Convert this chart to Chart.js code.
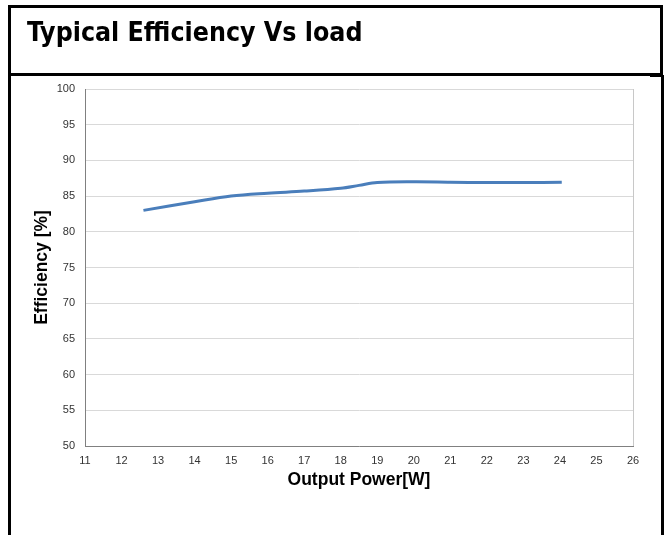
<!DOCTYPE html>
<html>
<head>
<meta charset="utf-8">
<script src="https://cdn.jsdelivr.net/npm/chart.js@4/dist/chart.umd.min.js"></script>
<style>
  html, body { margin: 0; padding: 0; background: #fff; }
  body { width: 670px; height: 535px; position: relative; overflow: hidden; }
  .bar { position: absolute; background: #000; }
  #title {
    position: absolute; left: 27px; top: 19px; line-height: 1;
    font-family: "DejaVu Sans Condensed", "Liberation Sans", sans-serif;
    font-weight: bold; font-size: 26.5px; color: #000; white-space: nowrap;
  }
  #effChart { position: absolute; left: 0; top: 0; }
</style>
</head>
<body>
<canvas id="effChart" width="670" height="535"></canvas>
<div class="bar" style="left:8px; top:5px; width:655px; height:3px;"></div>
<div class="bar" style="left:8px; top:5px; width:3px; height:530px;"></div>
<div class="bar" style="left:660px; top:5px; width:3px; height:71px;"></div>
<div class="bar" style="left:8px; top:73px; width:655px; height:3px;"></div>
<div class="bar" style="left:650px; top:75px; width:13px; height:2px;"></div>
<div class="bar" style="left:661px; top:75px; width:3px; height:460px;"></div>
<div id="title">Typical Efficiency Vs load</div>

<script>
// values
const outputPower = [12.6, 14, 15, 16, 17, 18, 18.5, 19, 20, 21, 22, 23, 24.05];
const efficiency = [83.0, 84.2, 85.0, 85.4, 85.7, 86.1, 86.5, 86.9, 87.0, 86.95, 86.9, 86.9, 86.95];
const xTicks = [11, 12, 13, 14, 15, 16, 17, 18, 19, 20, 21, 22, 23, 24, 25, 26];
const yTicks = [50, 55, 60, 65, 70, 75, 80, 85, 90, 95, 100];

const points = outputPower.map((p, i) => ({ x: p, y: efficiency[i] }));

const tickFont = { family: "'Liberation Sans', Arial, sans-serif", size: 11 };
const titleFont = { family: "'Liberation Sans', Arial, sans-serif", size: 17.5, weight: "bold" };

const ctx = document.getElementById("effChart").getContext("2d");
new Chart(ctx, {
  type: "line",
  data: {
    datasets: [{
      label: "Efficiency",
      data: points,
      borderColor: "#4a7ebb",
      borderWidth: 3,
      pointRadius: 0,
      fill: false,
      tension: 0.35
    }]
  },
  options: {
    responsive: false,
    animation: false,
    layout: { padding: { left: 27.5, top: 89, right: 37, bottom: 40.5 } },
    plugins: { legend: { display: false }, tooltip: { enabled: false } },
    scales: {
      x: {
        type: "linear",
        min: 11,
        max: 26,
        afterBuildTicks: scale => { scale.ticks = xTicks.map(v => ({ value: v })); },
        afterFit: scale => { scale.height = 48.5; },
        ticks: { font: tickFont, color: "#333", padding: 8, autoSkip: false, maxRotation: 0 },
        grid: {
          drawTicks: false,
          color: c => (c.tick && c.tick.value === 26 ? "#c8c8c8" : "rgba(0,0,0,0)")
        },
        border: { color: "#808080", width: 1 },
        title: { display: true, text: "Output Power[W]", font: titleFont, color: "#000", padding: { top: 2, bottom: 4 } }
      },
      y: {
        min: 50,
        max: 100,
        afterBuildTicks: scale => { scale.ticks = yTicks.map(v => ({ value: v })); },
        afterFit: scale => { scale.width = 57.5; },
        ticks: { font: tickFont, color: "#333", padding: 10 },
        grid: { drawTicks: false, color: "#d9d9d9" },
        border: { color: "#808080", width: 1 },
        title: { display: true, text: "Efficiency [%]", font: titleFont, color: "#000", padding: { top: 4, bottom: 2 } }
      }
    }
  }
});
</script>
</body>
</html>
